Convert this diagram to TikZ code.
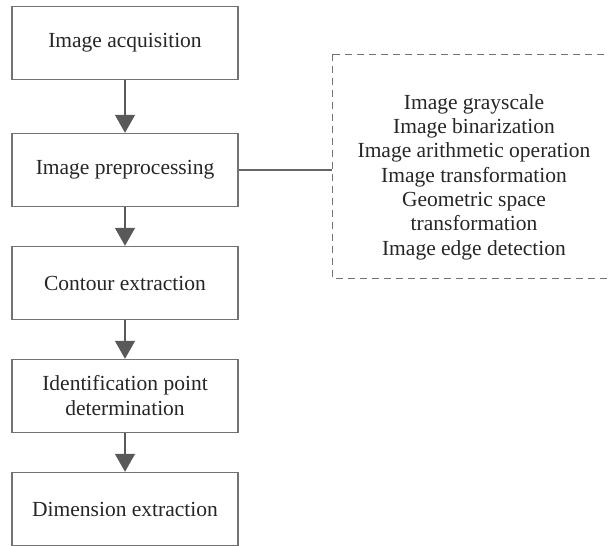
\documentclass[tikz,border=0pt]{standalone}
\usepackage{fontspec}
\setmainfont{Liberation Serif}
\usetikzlibrary{arrows.meta}
\tikzset{
  stepbox/.style={draw=black!55, line width=1.4pt, fill=white, minimum width=226pt,
    minimum height=73pt, inner sep=0pt, align=center, text=black!85,
    font=\fontsize{21.5}{25}\selectfont},
  flow/.style={draw=black!65, line width=1.4pt,
    -{Triangle[width=20pt,length=18pt]}},
  notebox/.style={draw=black!55, line width=1pt, dash pattern=on 7pt off 5pt},
  link/.style={draw=black!60, line width=1.2pt}
}
\begin{document}
\begin{tikzpicture}[x=1pt,y=-1pt]
\useasboundingbox (0,0) rectangle (608,546);
% main pipeline
\node[stepbox] (acq) at (125,43) {Image acquisition};
\node[stepbox] (pre) at (125,170) {Image preprocessing};
\node[stepbox] (con) at (125,283) {Contour extraction};
\node[stepbox] (idp) at (125,396) {Identification point\\determination};
\node[stepbox] (dim) at (125,509) {Dimension extraction};
\draw[flow] (acq) -- (pre);
\draw[flow] (pre) -- (con);
\draw[flow] (con) -- (idp);
\draw[flow] (idp) -- (dim);
% preprocessing details
\draw[notebox] (332,54) rectangle (640,278);
\coordinate (noteL) at (332,170);
\node[align=center, text=black!85, font=\fontsize{21.5}{24.3}\selectfont, inner sep=0pt]
  (steps) at (474,177) {Image grayscale\\Image binarization\\Image arithmetic operation\\Image transformation\\Geometric space\\transformation\\Image edge detection};
\draw[link] (pre.east) -- (noteL);
\end{tikzpicture}
\end{document}
